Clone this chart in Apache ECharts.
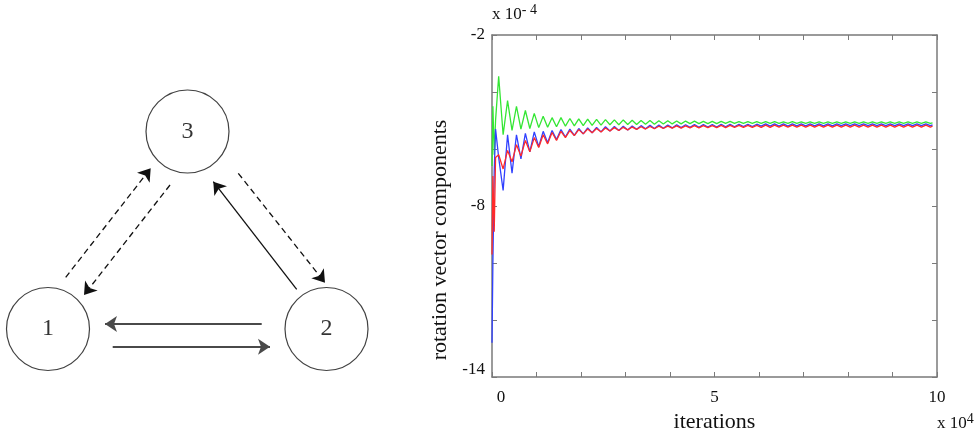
<!DOCTYPE html>
<html>
<head>
<meta charset="utf-8">
<script src="https://cdn.jsdelivr.net/npm/echarts@6/dist/echarts.min.js"></script>
<style>html,body{margin:0;padding:0;background:#fff}#c{width:979px;height:438px}</style>
</head>
<body>
<div id="c"></div>
<script>
// ---- line chart data (x in units of 10^4 iterations, y in units of 10^-4) ----
var iterations = [
  0, 0.02, 0.05, 0.08, 0.15, 0.25, 0.35, 0.45, 0.55, 0.65,
  0.75, 0.85, 0.95, 1.05, 1.15, 1.25, 1.35, 1.45, 1.55, 1.65,
  1.75, 1.85, 1.95, 2.05, 2.15, 2.25, 2.35, 2.45, 2.55, 2.65,
  2.75, 2.85, 2.95, 3.05, 3.15, 3.25, 3.35, 3.45, 3.55, 3.65,
  3.75, 3.85, 3.95, 4.05, 4.15, 4.25, 4.35, 4.45, 4.55, 4.65,
  4.75, 4.85, 4.95, 5.05, 5.15, 5.25, 5.35, 5.45, 5.55, 5.65,
  5.75, 5.85, 5.95, 6.05, 6.15, 6.25, 6.35, 6.45, 6.55, 6.65,
  6.75, 6.85, 6.95, 7.05, 7.15, 7.25, 7.35, 7.45, 7.55, 7.65,
  7.75, 7.85, 7.95, 8.05, 8.15, 8.25, 8.35, 8.45, 8.55, 8.65,
  8.75, 8.85, 8.95, 9.05, 9.15, 9.25, 9.35, 9.45, 9.55, 9.65,
  9.75, 9.85, 9.9
];
var greenComp = [
  -6.6, -4.5, -6.2, -5.0, -3.45, -5.5, -4.3, -5.35, -4.5, -5.3,
  -4.65, -5.28, -4.75, -5.25, -4.85, -5.24, -4.9, -5.22, -4.9, -5.2,
  -4.93, -5.19, -4.94, -5.18, -4.95, -5.17, -4.96, -5.16, -4.97, -5.15,
  -4.98, -5.15, -4.98, -5.14, -4.99, -5.14, -5.0, -5.13, -5.0, -5.13,
  -5.01, -5.12, -5.01, -5.12, -5.02, -5.12, -5.02, -5.11, -5.02, -5.11,
  -5.03, -5.11, -5.03, -5.11, -5.03, -5.1, -5.03, -5.1, -5.04, -5.1,
  -5.04, -5.1, -5.04, -5.1, -5.04, -5.1, -5.04, -5.1, -5.05, -5.1,
  -5.04, -5.1, -5.05, -5.1, -5.05, -5.1, -5.05, -5.1, -5.05, -5.1,
  -5.05, -5.1, -5.05, -5.1, -5.05, -5.1, -5.05, -5.1, -5.05, -5.1,
  -5.05, -5.1, -5.05, -5.1, -5.05, -5.1, -5.05, -5.1, -5.05, -5.1,
  -5.05, -5.1, -5.08
];
var blueComp = [
  -12.8, -10.0, -6.8, -5.3, -6.3, -7.45, -5.5, -6.85, -5.5, -6.35,
  -5.45, -6.1, -5.4, -5.92, -5.38, -5.78, -5.35, -5.67, -5.32, -5.58,
  -5.3, -5.52, -5.28, -5.47, -5.26, -5.43, -5.24, -5.4, -5.22, -5.37,
  -5.21, -5.35, -5.2, -5.33, -5.19, -5.31, -5.18, -5.29, -5.17, -5.28,
  -5.16, -5.27, -5.16, -5.26, -5.15, -5.25, -5.15, -5.24, -5.14, -5.24,
  -5.14, -5.23, -5.14, -5.23, -5.13, -5.22, -5.13, -5.22, -5.13, -5.21,
  -5.13, -5.21, -5.13, -5.2, -5.12, -5.2, -5.12, -5.2, -5.12, -5.2,
  -5.12, -5.19, -5.12, -5.19, -5.12, -5.19, -5.12, -5.19, -5.12, -5.19,
  -5.12, -5.18, -5.12, -5.18, -5.12, -5.18, -5.12, -5.18, -5.12, -5.18,
  -5.12, -5.18, -5.12, -5.18, -5.12, -5.18, -5.12, -5.18, -5.12, -5.18,
  -5.12, -5.18, -5.15
];
var redComp = [
  -9.7, -6.95, -8.9, -6.3, -6.2, -6.7, -6.05, -6.45, -5.85, -6.25,
  -5.7, -6.1, -5.6, -5.95, -5.5, -5.82, -5.42, -5.7, -5.38, -5.6,
  -5.35, -5.53, -5.32, -5.47, -5.3, -5.43, -5.28, -5.4, -5.26, -5.37,
  -5.25, -5.35, -5.24, -5.33, -5.23, -5.31, -5.22, -5.3, -5.21, -5.29,
  -5.2, -5.28, -5.2, -5.27, -5.19, -5.27, -5.19, -5.26, -5.18, -5.26,
  -5.18, -5.25, -5.18, -5.25, -5.17, -5.25, -5.17, -5.24, -5.17, -5.24,
  -5.17, -5.24, -5.17, -5.24, -5.16, -5.24, -5.16, -5.23, -5.16, -5.23,
  -5.16, -5.23, -5.16, -5.23, -5.16, -5.23, -5.16, -5.23, -5.16, -5.23,
  -5.16, -5.23, -5.16, -5.23, -5.16, -5.23, -5.16, -5.23, -5.16, -5.23,
  -5.16, -5.23, -5.16, -5.23, -5.16, -5.23, -5.16, -5.23, -5.16, -5.23,
  -5.16, -5.23, -5.2
];
var xTickLabels = [0, 5, 10];
var yTickLabels = [-2, -8, -14];

// ---- diagram data (diagram units) ----
var nodeNames = ['1', '2', '3'];
var nodeX = [48, 326.5, 187.5];
var nodeY = [329, 329, 131.5];
var arrowFrom = [[261.7, 324], [112.7, 346.7], [296.7, 289.3], [65.7, 277.3], [170, 185], [238.3, 173.3]];
var arrowTo   = [[105, 324], [270, 346.7], [213.3, 181.7], [150.7, 168.3], [84, 295], [325, 282.7]];
var arrowKind = ['solidGray', 'solidGray', 'solid', 'dashed', 'dashed', 'dashed'];

var FONT = 'Liberation Serif';
var AX = '#7a7a7a';

function pairs(xs, ys) { return xs.map(function (x, i) { return [x, ys[i]]; }); }

var arrowStyles = {
  solidGray: { color: '#4a4a4a', width: 1.8, type: 'solid' },
  solid: { color: '#111', width: 1.3, type: 'solid' },
  dashed: { color: '#111', width: 1.3, type: [6, 4] }
};

var supRich = {
  a: { fontFamily: FONT, fontSize: 17, fill: '#111', lineHeight: 20, verticalAlign: 'bottom' },
  b: { fontFamily: FONT, fontSize: 14, fill: '#111', verticalAlign: 'top' }
};

var chart = echarts.init(document.getElementById('c'), null, { renderer: 'canvas' });
chart.setOption({
  animation: false,
  backgroundColor: '#fff',
  grid: [
    { left: 492, right: 42, top: 35, bottom: 52 },
    { left: 0, top: 0, width: 380, height: 438 }
  ],
  xAxis: [
    {
      gridIndex: 0, type: 'value', min: 0, max: 10, interval: 1, position: 'bottom',
      axisLine: { onZero: false, lineStyle: { color: AX, width: 1.5 } },
      axisTick: { inside: true, length: 5, lineStyle: { color: AX } },
      splitLine: { show: false },
      axisLabel: {
        margin: 12, color: '#111', fontFamily: FONT, fontSize: 17,
        formatter: function (v) {
          if (xTickLabels.indexOf(v) < 0) return '';
          return v === 0 ? '{z|0}' : String(v);
        },
        rich: { z: { fontFamily: FONT, fontSize: 17, color: '#111', padding: [0, 0, 0, 18] } }
      },
      name: 'iterations', nameLocation: 'middle', nameGap: 34,
      nameTextStyle: { fontFamily: FONT, fontSize: 22, color: '#111' }
    },
    {
      gridIndex: 0, type: 'value', min: 0, max: 10, interval: 1, position: 'top',
      axisLine: { onZero: false, lineStyle: { color: AX, width: 1.5 } },
      axisTick: { inside: true, length: 5, lineStyle: { color: AX } },
      axisLabel: { show: false }, splitLine: { show: false }
    },
    { gridIndex: 1, type: 'value', min: 0, max: 380, show: false, splitLine: { show: false } }
  ],
  yAxis: [
    {
      gridIndex: 0, type: 'value', min: -14, max: -2, interval: 2, position: 'left',
      axisLine: { onZero: false, lineStyle: { color: AX, width: 1.5 } },
      axisTick: { inside: true, length: 5, lineStyle: { color: AX } },
      splitLine: { show: false },
      axisLabel: {
        margin: 7, color: '#111', fontFamily: FONT, fontSize: 17,
        formatter: function (v) {
          if (yTickLabels.indexOf(v) < 0) return '';
          return v === -14 ? '{u|-14}' : String(v);
        },
        rich: { u: { fontFamily: FONT, fontSize: 17, color: '#111', padding: [0, 0, 14, 0] } }
      }
    },
    {
      gridIndex: 0, type: 'value', min: -14, max: -2, interval: 2, position: 'right',
      axisLine: { onZero: false, lineStyle: { color: AX, width: 1.5 } },
      axisTick: { inside: true, length: 5, lineStyle: { color: AX } },
      axisLabel: { show: false }, splitLine: { show: false }
    },
    { gridIndex: 1, type: 'value', min: 0, max: 438, inverse: true, show: false, splitLine: { show: false } }
  ],
  graphic: [
    {
      type: 'text', x: 440, y: 240, rotation: Math.PI / 2,
      style: { text: 'rotation vector components', fontFamily: FONT, fontSize: 22, fill: '#111', align: 'center', verticalAlign: 'middle' }
    },
    { type: 'text', x: 492, y: 3, style: { text: '{a|x 10}{b|- 4}', rich: supRich } },
    { type: 'text', x: 937, y: 412, style: { text: '{a|x 10}{b|4}', rich: supRich } }
  ],
  series: [
    {
      type: 'line', xAxisIndex: 0, yAxisIndex: 0, showSymbol: false, silent: true,
      data: pairs(iterations, greenComp), lineStyle: { color: '#33e633', width: 1.3 }, itemStyle: { color: '#33e633' }
    },
    {
      type: 'line', xAxisIndex: 0, yAxisIndex: 0, showSymbol: false, silent: true,
      data: pairs(iterations, blueComp), lineStyle: { color: '#3040ff', width: 1.3 }, itemStyle: { color: '#3040ff' }
    },
    {
      type: 'line', xAxisIndex: 0, yAxisIndex: 0, showSymbol: false, silent: true,
      data: pairs(iterations, redComp), lineStyle: { color: '#ff2a2a', width: 1.3 }, itemStyle: { color: '#ff2a2a' }
    },
    {
      type: 'lines', coordinateSystem: 'cartesian2d', xAxisIndex: 2, yAxisIndex: 2, silent: true,
      symbol: ['none', 'arrow'], symbolSize: 12,
      data: arrowFrom.map(function (f, i) {
        var s = arrowStyles[arrowKind[i]];
        return { coords: [f, arrowTo[i]], lineStyle: { color: s.color, width: s.width, type: s.type, opacity: 1 } };
      })
    },
    {
      type: 'scatter', xAxisIndex: 2, yAxisIndex: 2, silent: true,
      symbol: 'circle', symbolSize: 83,
      itemStyle: { color: '#fff', borderColor: '#111', borderWidth: 1.2 },
      label: { show: true, position: 'inside', formatter: function (p) { return p.data[2]; }, fontFamily: FONT, fontSize: 24, color: '#000' },
      data: nodeNames.map(function (n, i) { return [nodeX[i], nodeY[i], n]; })
    }
  ]
});
</script>
</body>
</html>
